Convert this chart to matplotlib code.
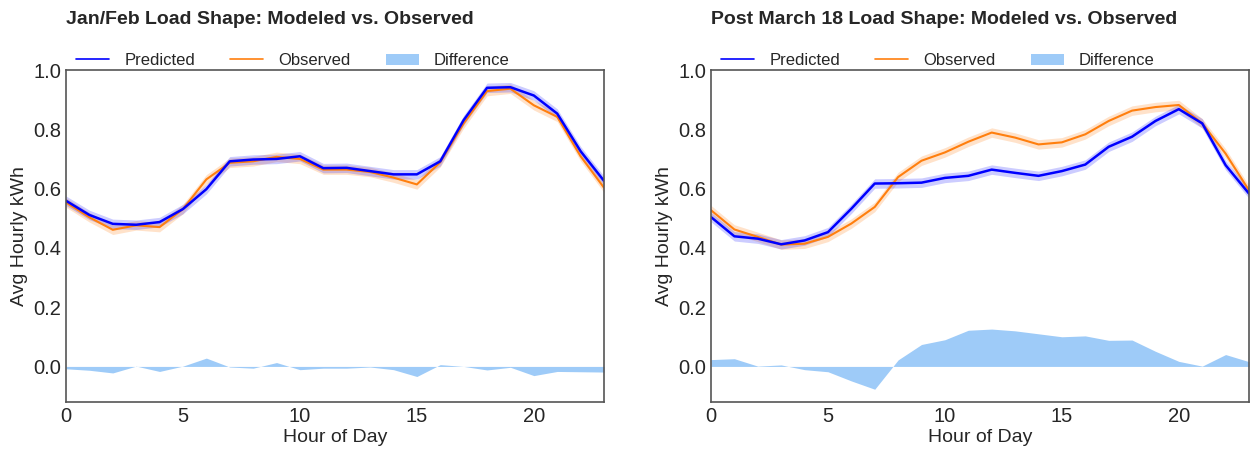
import numpy as np
import matplotlib
matplotlib.use("Agg")
import matplotlib.pyplot as plt

hours = list(range(24))

# Jan/Feb
pred_jf = [0.559, 0.511, 0.481, 0.478, 0.487, 0.531, 0.598, 0.692, 0.698, 0.700, 0.709, 0.669,
           0.670, 0.659, 0.648, 0.648, 0.692, 0.831, 0.940, 0.942, 0.914, 0.853, 0.726, 0.626]
obs_jf = [0.553, 0.503, 0.461, 0.476, 0.470, 0.531, 0.631, 0.687, 0.692, 0.707, 0.700, 0.664,
          0.664, 0.656, 0.637, 0.614, 0.689, 0.820, 0.929, 0.937, 0.881, 0.842, 0.709, 0.603]
diff_jf = [-0.008, -0.013, -0.022, 0.001, -0.017, 0.001, 0.028, -0.002, -0.006, 0.013, -0.011, -0.006,
           -0.006, -0.002, -0.011, -0.034, 0.006, 0.0, -0.012, -0.003, -0.031, -0.017, -0.018, -0.019]

# Post March 18
pred_pm = [0.504, 0.439, 0.431, 0.412, 0.425, 0.453, 0.532, 0.617, 0.618, 0.620, 0.636, 0.643,
           0.664, 0.653, 0.643, 0.659, 0.681, 0.741, 0.775, 0.828, 0.868, 0.820, 0.679, 0.583]
obs_pm = [0.527, 0.462, 0.437, 0.411, 0.414, 0.437, 0.482, 0.538, 0.639, 0.694, 0.722, 0.758,
          0.789, 0.772, 0.749, 0.756, 0.783, 0.828, 0.863, 0.875, 0.882, 0.820, 0.718, 0.594]
diff_pm = [0.023, 0.026, 0.001, 0.005, -0.011, -0.018, -0.049, -0.077, 0.022, 0.074, 0.090, 0.122,
           0.126, 0.120, 0.110, 0.100, 0.103, 0.088, 0.089, 0.051, 0.017, 0.001, 0.040, 0.016]

titles = ["Jan/Feb Load Shape: Modeled vs. Observed",
          "Post March 18 Load Shape: Modeled vs. Observed"]

plt.style.use("seaborn-v0_8-white")
plt.rcParams['font.family'] = ['Liberation Sans', 'DejaVu Sans']

fig = plt.figure(figsize=(12.5, 4.5), dpi=100)
ax1 = fig.add_axes([0.0528, 0.1067, 0.4304, 0.7377])
ax2 = fig.add_axes([0.5688, 0.1067, 0.4304, 0.7377])

panels = [(ax1, pred_jf, obs_jf, diff_jf, titles[0]),
          (ax2, pred_pm, obs_pm, diff_pm, titles[1])]

band = 0.016
for ax, pred, obs, diff, title in panels:
    pred = np.array(pred)
    obs = np.array(obs)
    ax.fill_between(hours, diff, 0, color='#9ecbf8', lw=0, label='Difference')
    ax.fill_between(hours, obs - band, obs + band, color='#ff7f0e', alpha=0.22, lw=0)
    ax.fill_between(hours, pred - band, pred + band, color='blue', alpha=0.2, lw=0)
    ax.plot(hours, obs, color='#ff7f0e', lw=1.5, label='Observed')
    ax.plot(hours, pred, color='blue', lw=1.8, label='Predicted')

    ax.set_xlim(0, 23)
    ax.set_ylim(-0.12, 1.0)
    ax.set_xticks([0, 5, 10, 15, 20])
    ax.set_yticks([0.0, 0.2, 0.4, 0.6, 0.8, 1.0])
    ax.tick_params(labelsize=14.5, colors='#262626')
    for s in ax.spines.values():
        s.set_color('#555555')
        s.set_linewidth(1.2)
    ax.set_xlabel("Hour of Day", fontsize=14, color='#262626', labelpad=2)
    ax.set_ylabel("Avg Hourly kWh", fontsize=14, color='#262626')
    ax.set_title(title, loc='left', fontsize=14, fontweight='bold', color='#262626', pad=33)

    h, l = ax.get_legend_handles_labels()
    order = [l.index('Predicted'), l.index('Observed'), l.index('Difference')]
    leg = ax.legend([h[i] for i in order], [l[i] for i in order], loc='lower left',
                    bbox_to_anchor=(0.0, 0.975), ncol=3, frameon=False, fontsize=12,
                    columnspacing=2.1, handlelength=2.0, handletextpad=0.9, borderaxespad=0.2)
    for line in leg.get_lines():
        line.set_linewidth(1.2)

fig.savefig("out.png", dpi=100)
